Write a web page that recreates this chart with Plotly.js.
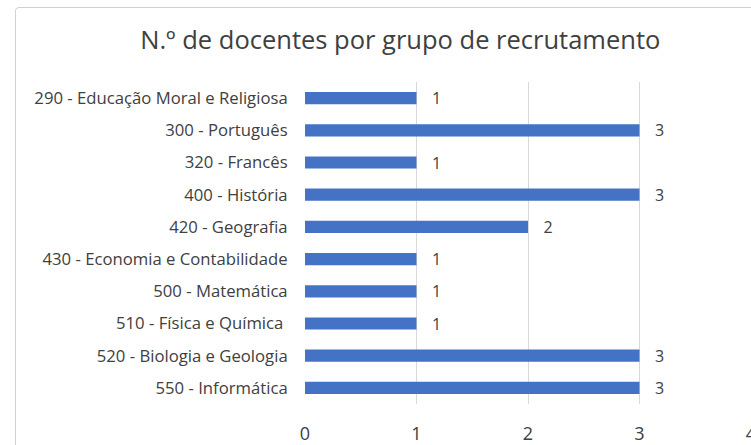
<!DOCTYPE html>
<html><head><meta charset="utf-8">
<script src="https://cdn.plot.ly/plotly-3.0.1.min.js"></script>
<style>
html,body{margin:0;padding:0;background:#fff;overflow:hidden}
#wrap{position:relative;width:751px;height:445px}
#chart{position:absolute;left:0;top:0;width:751px;height:445px}
#frame{position:absolute;left:15px;top:7px;width:800px;height:500px;border:1.5px solid #d0d0d0;border-radius:4px;pointer-events:none;box-sizing:border-box}
</style></head>
<body><div id="wrap"><div id="chart"></div><div id="frame"></div></div>
<script>
const categories = ["290 - Educação Moral e Religiosa","300 - Português","320 - Francês","400 - História","420 - Geografia","430 - Economia e Contabilidade","500 - Matemática","510 - Física e Química ","520 - Biologia e Geologia","550 - Informática"];
const values = [1,3,1,3,2,1,1,1,3,3];
const xTicks = [0,1,2,3,4];

Plotly.newPlot('chart',[{
  type:'bar', orientation:'h', x:values, y:categories,
  marker:{color:'#4472C4'}, width:0.38,
  text:values.map(v=>'\u00a0\u00a0\u00a0'+v), textposition:'outside', cliponaxis:false, constraintext:'none',
  textfont:{family:'Open Sans',size:16,color:'#404040'}, hoverinfo:'none'
}],{
  width:751,height:445,paper_bgcolor:'#fff',plot_bgcolor:'#fff',
  margin:{l:305,r:0,t:82,b:41},
  showlegend:false,
  title:{text:'N.º de docentes por grupo de recrutamento',x:0.533,xanchor:'center',y:0.91,yanchor:'middle',
    font:{family:'Open Sans',size:25.5,color:'#404040'}},
  xaxis:{range:[0,4],tickvals:xTicks,showgrid:true,gridcolor:'#d9d9d9',gridwidth:1,zeroline:false,
    ticks:'outside',ticklen:13,tickcolor:'rgba(0,0,0,0)',ticklabeloverflow:'allow',
    tickfont:{family:'Open Sans',size:18,color:'#404040'},showline:false},
  yaxis:{autorange:'reversed',ticks:'outside',ticklen:13,tickcolor:'rgba(0,0,0,0)',
    tickfont:{family:'Open Sans',size:16.7,color:'#404040'},showgrid:false,zeroline:false}
},{staticPlot:true});
</script></body></html>
